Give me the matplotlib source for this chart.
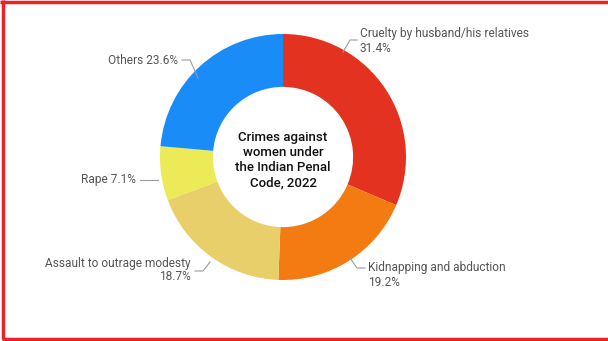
import matplotlib
matplotlib.use("Agg")
import matplotlib.pyplot as plt

categories = [
    "Cruelty by husband/his relatives",
    "Kidnapping and abduction",
    "Assault to outrage modesty",
    "Rape",
    "Others",
]
shares = [31.4, 19.2, 18.7, 7.1, 23.6]
colors = ["#e3321f", "#f47b12", "#e8cf6a", "#ecea56", "#1a8cf8"]
center_title = "Crimes against\nwomen under\nthe Indian Penal\nCode, 2022"

W, H = 608, 341
CX, CY, R = 283, 184, 123  # y measured from bottom
HOLE = 0.57

# label layout: leader points (pixel, y from top), text anchor, alignment, two-line?
label_layout = [
    dict(pts=[(343, 52), (350, 40), (357, 40)], txt=(360, 41), ha="left", two=True),
    dict(pts=[(350, 258), (357, 268), (365, 268)], txt=(368, 275), ha="left", two=True),
    dict(pts=[(210, 262), (203, 271), (195, 271)], txt=(191, 270), ha="right", two=True),
    dict(pts=[(158, 180), (140, 180)], txt=(136, 180), ha="right", two=False),
    dict(pts=[(198, 78), (190, 60), (182, 60)], txt=(178, 60), ha="right", two=False),
]

plt.rcParams["font.family"] = ["Roboto", "DejaVu Sans"]
fig = plt.figure(figsize=(W / 100, H / 100), dpi=100)
ax = fig.add_axes([0, 0, 1, 1])
ax.set_aspect("equal")
ax.axis("off")

ax.pie(
    shares,
    colors=colors,
    startangle=90,
    counterclock=False,
    center=(CX, CY),
    radius=R,
    wedgeprops=dict(width=R * (1 - HOLE), linewidth=0),
)
ax.set_xlim(0, W)
ax.set_ylim(0, H)

ax.text(CX, H - 160, center_title, ha="center", va="center", fontsize=9.5,
        fontweight="medium", color="#111111", linespacing=1.2)

for name, val, lay in zip(categories, shares, label_layout):
    xs = [p[0] for p in lay["pts"]]
    ys = [H - p[1] for p in lay["pts"]]
    ax.plot(xs, ys, color="#9a9a9a", lw=0.8)
    if lay["two"]:
        s = f"{name}\n{val:.1f}%"
    else:
        s = f"{name} {val:.1f}%"
    ax.text(lay["txt"][0], H - lay["txt"][1], s, ha=lay["ha"], va="center",
            fontsize=8.6, color="#555555", linespacing=1.1,
            multialignment=lay["ha"])

# red frame: top, left and bottom edges only
frame = dict(color="#ec2227", lw=2.5, solid_capstyle="butt")
ax.plot([0, W], [H - 1.5, H - 1.5], **frame)
ax.plot([3, 3], [H, 2.5], **frame)
ax.plot([2, W], [H - 338.5, H - 338.5], **frame)

fig.savefig("out.png", dpi=100)
